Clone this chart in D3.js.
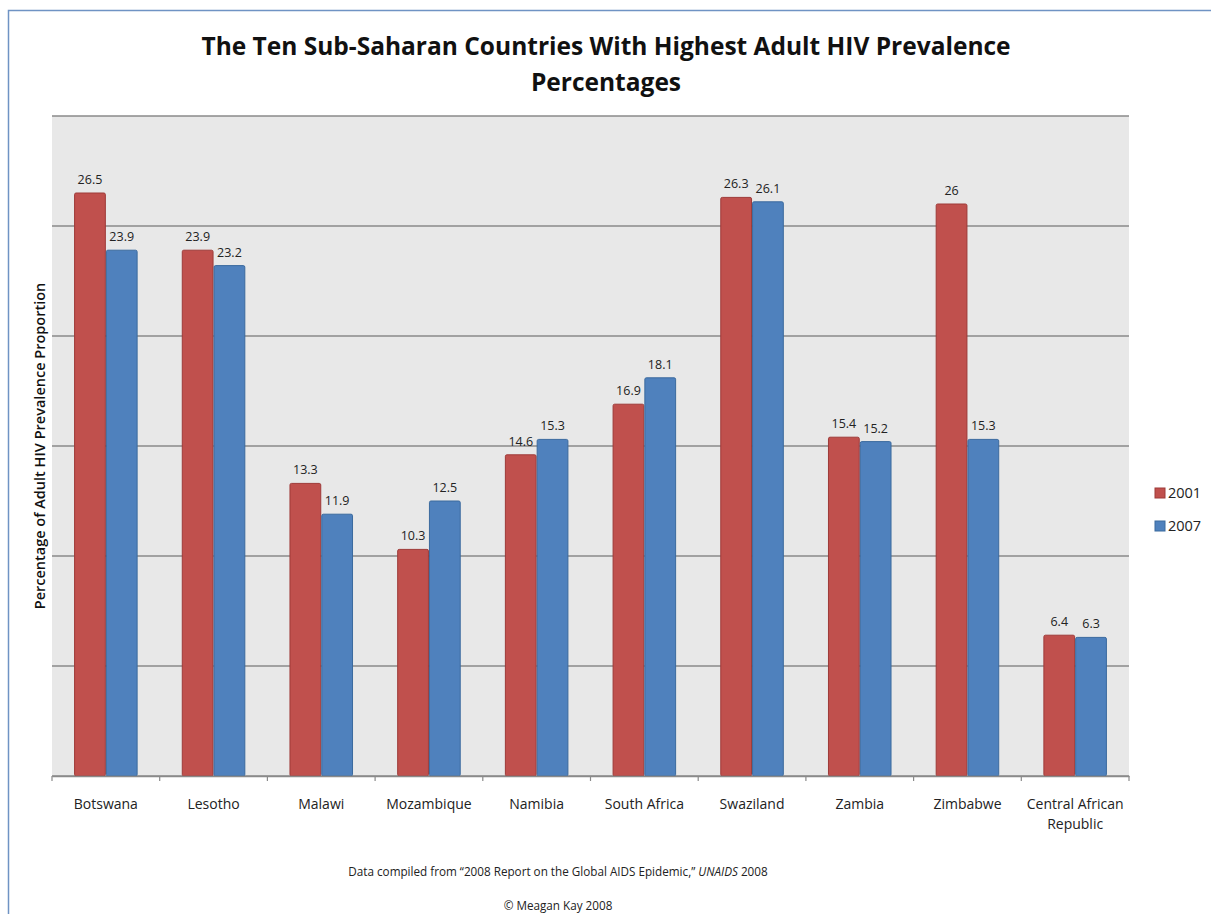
<!DOCTYPE html>
<html><head><meta charset="utf-8">
<script src="https://cdn.jsdelivr.net/npm/d3@7"></script>
<style>
body{margin:0;background:#fff;}
svg{display:block;font-family:"Open Sans",sans-serif;}
</style></head>
<body>
<svg id="chart" width="1211" height="914"></svg>
<script>
const countries = ["Botswana","Lesotho","Malawi","Mozambique","Namibia","South Africa","Swaziland","Zambia","Zimbabwe","Central African Republic"];
const labelLines = [["Botswana"],["Lesotho"],["Malawi"],["Mozambique"],["Namibia"],["South Africa"],["Swaziland"],["Zambia"],["Zimbabwe"],["Central African","Republic"]];
const series = ["2001","2007"];
const values2001 = [26.5,23.9,13.3,10.3,14.6,16.9,26.3,15.4,26,6.4];
const values2007 = [23.9,23.2,11.9,12.5,15.3,18.1,26.1,15.2,15.3,6.3];
const yTicks = [0,5,10,15,20,25,30];
const colors = ["#c0504d","#4f81bd"];
const strokes = ["#9e3a38","#3b6a9e"];

const svg = d3.select("#chart");
// frame
svg.append("path").attr("d","M8.5,914 V10.5 H1211").attr("fill","none").attr("stroke","#6f93c4").attr("stroke-width",1.5);

const L=52, R=1129, T=116, B=776;
const x0 = d3.scaleBand().domain(countries).range([L,R]).paddingInner(0.41).paddingOuter(0.205);
const x1 = d3.scaleBand().domain(series).range([0,x0.bandwidth()]);
const y = d3.scaleLinear().domain([0,30]).range([B,T]);

svg.append("rect").attr("x",L).attr("y",T).attr("width",R-L).attr("height",B-T).attr("fill","#e8e8e8");
svg.append("g").selectAll("line").data(yTicks).join("line")
  .attr("x1",L).attr("x2",R).attr("y1",d=>y(d)).attr("y2",d=>y(d))
  .attr("stroke","#8a8a8a").attr("stroke-width",1.5);

const data = countries.map((c,i)=>({c, vals:[values2001[i],values2007[i]]}));
const g = svg.append("g");
data.forEach(d=>{
  d.vals.forEach((v,j)=>{
    const bx = x0(d.c)+x1(series[j]);
    g.append("rect").attr("x",bx+0.5).attr("y",y(v)).attr("width",x1.bandwidth()-1).attr("height",B-y(v))
      .attr("fill",colors[j]).attr("stroke",strokes[j]).attr("stroke-width",1).attr("rx",1.5);
    g.append("text").attr("x",bx+x1.bandwidth()/2).attr("y",y(v)-9).attr("text-anchor","middle")
      .attr("font-size",12.5).attr("fill","#222").text(String(v));
  });
});

// x axis
const xAxis = d3.axisBottom(x0).tickSize(0).tickFormat("");
const ax = svg.append("g").attr("transform",`translate(0,${B})`).call(xAxis);
ax.select(".domain").attr("stroke","#8a8a8a").attr("stroke-width",1.5);
const bounds = countries.map(c=>x0(c)-x0.step()*x0.paddingInner()/2).concat([R]);
svg.append("g").selectAll("line").data(bounds).join("line")
  .attr("x1",d=>d).attr("x2",d=>d).attr("y1",B).attr("y2",B+5).attr("stroke","#8a8a8a").attr("stroke-width",1.2);

svg.append("g").selectAll("text").data(countries).join("text")
  .attr("x",c=>x0(c)+x0.bandwidth()/2).attr("y",809).attr("text-anchor","middle")
  .attr("font-size",14).attr("fill","#222")
  .each(function(c,i){
    const t=d3.select(this);
    labelLines[i].forEach((ln,k)=>t.append("tspan").attr("x",x0(c)+x0.bandwidth()/2).attr("dy",k?20:0).text(ln));
  });

// y title
svg.append("text").attr("transform","translate(45,446) rotate(-90)").attr("text-anchor","middle")
  .attr("font-size",14.5).attr("font-weight",600).attr("fill","#111").text("Percentage of Adult HIV Prevalence Proportion");

// title
const title = svg.append("text").attr("text-anchor","middle").attr("font-weight",700).attr("font-size",24.5).attr("fill","#111");
title.append("tspan").attr("x",606).attr("y",55).text("The Ten Sub-Saharan Countries With Highest Adult HIV Prevalence");
title.append("tspan").attr("x",606).attr("y",91).text("Percentages");

// legend
const lg = svg.append("g");
series.forEach((s,j)=>{
  lg.append("rect").attr("x",1155).attr("y",488+j*33).attr("width",10).attr("height",10).attr("fill",colors[j]).attr("stroke",strokes[j]);
  lg.append("text").attr("x",1168).attr("y",498+j*33).attr("font-size",14.5).attr("fill","#222").text(s);
});

// footer
const f = svg.append("text").attr("x",558).attr("y",876).attr("text-anchor","middle").attr("font-size",11.7).attr("fill","#222");
f.append("tspan").text("Data compiled from \u201c2008 Report on the Global AIDS Epidemic,\u201d ");
f.append("tspan").attr("font-style","italic").text("UNAIDS");
f.append("tspan").text(" 2008");
svg.append("text").attr("x",558).attr("y",910).attr("text-anchor","middle").attr("font-size",11.7).attr("fill","#222").text("\u00a9 Meagan Kay 2008");
</script>
</body></html>
